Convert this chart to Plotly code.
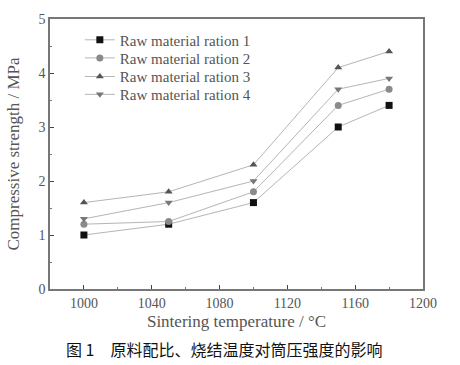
import plotly.graph_objects as go

temps = [1000, 1050, 1100, 1150, 1180]
ratio1 = [1.0, 1.2, 1.6, 3.0, 3.4]
ratio2 = [1.2, 1.25, 1.8, 3.4, 3.7]
ratio3 = [1.6, 1.8, 2.3, 4.1, 4.4]
ratio4 = [1.3, 1.6, 2.0, 3.7, 3.9]
names = ["Raw material ration 1", "Raw material ration 2", "Raw material ration 3", "Raw material ration 4"]
symbols = ["square", "circle", "triangle-up", "triangle-down"]
colors = ["#111111", "#8a8a8a", "#555555", "#777777"]
legend_ids = ["legend", "legend2", "legend3", "legend4"]
legend_rows_y = [0.922, 0.855, 0.786, 0.72]

fig = go.Figure()
for ys, n, s, c, lg in zip([ratio1, ratio2, ratio3, ratio4], names, symbols, colors, legend_ids):
    fig.add_trace(go.Scatter(x=temps, y=ys, name=n, mode="lines+markers", legend=lg,
                             line=dict(color="#b5b5b5", width=1),
                             marker=dict(symbol=s, color=c, size=7)))

legend_style = dict(x=0.08, xanchor="left", yanchor="middle", bgcolor="rgba(0,0,0,0)",
                    font=dict(size=15, color="#555555"), itemwidth=30)
legends = {lg: dict(legend_style, y=yy) for lg, yy in zip(legend_ids, legend_rows_y)}

fig.update_layout(
    width=460, height=365,
    margin=dict(l=47, r=37, t=13, b=76),
    paper_bgcolor="white", plot_bgcolor="white",
    font=dict(family="Liberation Serif, serif", size=14, color="#555555"),
    showlegend=True,
    **legends,
    xaxis=dict(range=[980, 1200], tickvals=[1000, 1040, 1080, 1120, 1160, 1200],
               ticks="inside", ticklen=4, showline=True, linecolor="#777777", linewidth=1.5,
               mirror=True, showgrid=False, zeroline=False, tickfont=dict(size=14),
               minor=dict(ticks="inside", dtick=20, ticklen=2, tickcolor="#777777"),
               title=dict(text="Sintering temperature / °C", font=dict(size=17), standoff=6)),
    yaxis=dict(range=[0, 5], dtick=1, ticks="inside", ticklen=4, showline=True,
               linecolor="#777777", linewidth=1.5, mirror=True, showgrid=False, zeroline=False,
               tickfont=dict(size=14),
               minor=dict(ticks="inside", dtick=0.5, ticklen=2, tickcolor="#777777"),
               title=dict(text="Compressive strength / MPa", font=dict(size=17), standoff=15)),
)
fig.add_annotation(text="图 1　原料配比、烧结温度对筒压强度的影响", xref="paper", yref="paper",
                   x=0.5, y=-0.221, xanchor="center", yanchor="middle", showarrow=False,
                   xshift=-13,
                   font=dict(family="Noto Sans CJK SC", size=16, color="#111111"))
fig.write_html("out.html", config={"displayModeBar": False},
               post_script="document.body.style.margin='0';")
